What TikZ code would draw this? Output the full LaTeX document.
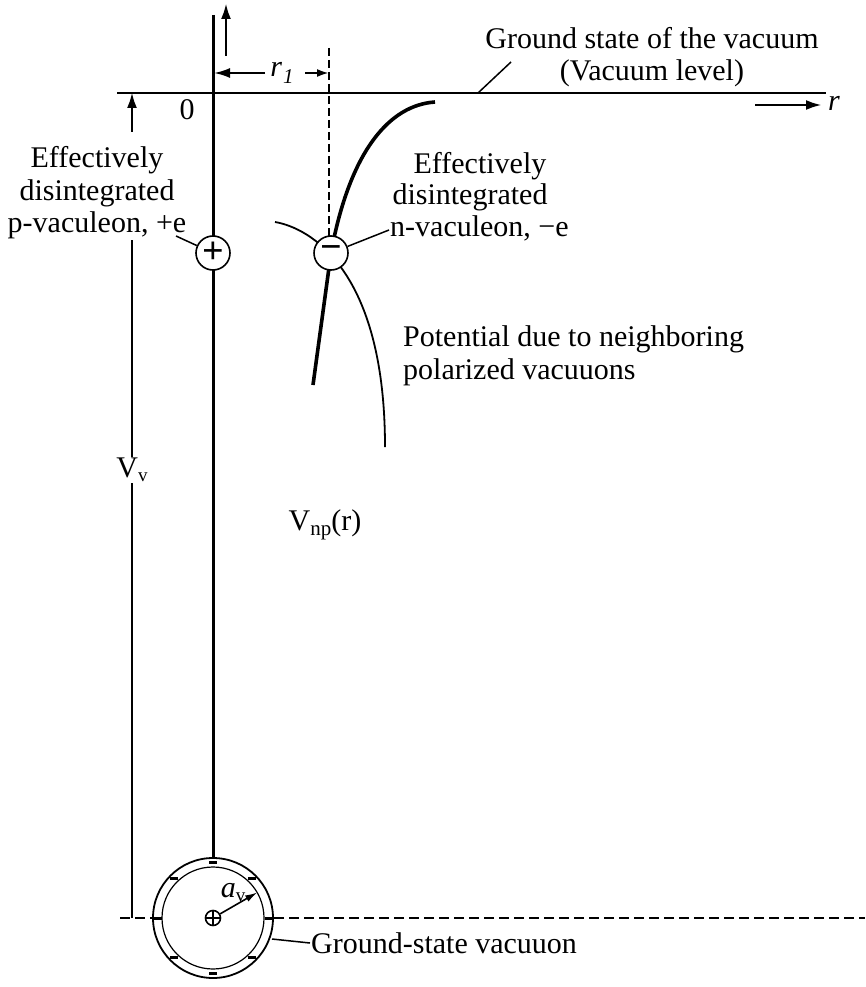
\documentclass[tikz,border=0pt]{standalone}
\usepackage{fontspec}
\setmainfont{Liberation Serif}
\usetikzlibrary{arrows.meta,calc}
\begin{document}
\begin{tikzpicture}[x=1pt,y=-1pt,
  txt/.style={font=\fontsize{30}{32.5}\selectfont,inner sep=1pt},
  thick1/.style={line width=3pt},
  arr/.style={-{Latex[length=16pt,width=10pt]},line width=2.8pt},
  chg/.style={circle,draw,line width=1.6pt,minimum size=34pt,inner sep=0pt,fill=white}]
\useasboundingbox (0,0) rectangle (865,987);
% axes
\coordinate (atop) at (213,15);
\coordinate (abot) at (213,858);
\draw[thick1] (atop) -- (abot);
\coordinate (h0) at (117,93); \coordinate (h1) at (826,93);
\draw[line width=1.8pt] (h0) -- (h1);
\coordinate (u0) at (226,56); \coordinate (u1) at (226,3);
\draw[arr] (u0) -- (u1);
\coordinate (ra) at (755,105); \coordinate (rb) at (822,105);
\draw[arr] (ra) -- (rb);
\node[txt,font=\fontsize{30}{32}\selectfont\itshape] (r) at (834,103) {r};
\node[txt] (zero) at (187,110) {0};
% r1
\coordinate (d0) at (329,48); \coordinate (d1) at (329,236);
\draw[line width=1.3pt,dash pattern=on 8pt off 4pt] (d0) -- (d1);
\coordinate (r1a) at (265,73); \coordinate (r1b) at (214,73);
\draw[arr,line width=2.2pt] (r1a) -- (r1b);
\coordinate (r1c) at (305,73); \coordinate (r1d) at (329,73);
\draw[-{Latex[length=12pt,width=8pt]},line width=2.2pt] (r1c) -- (r1d);
\node[txt,font=\fontsize{30}{32}\selectfont\itshape] (r1) at (282,73) {r\kern1pt\raisebox{-7pt}{\fontsize{21}{21}\selectfont 1}};
% Vv arrow
\coordinate (v0) at (132,918); \coordinate (v1) at (132,240); \coordinate (v2) at (132,132); \coordinate (v3) at (132,92);
\draw[line width=2.6pt] (v0) -- (v1);
\draw[arr] (v2) -- (v3);
\node[txt,fill=white] (vv) at (132,470) {V\raisebox{-4pt}{\fontsize{19}{19}\selectfont v}};
% curves
\coordinate (tc0) at (313,385); \coordinate (tc1) at (331,253); \coordinate (tc2) at (435,102);
\draw[line width=3.6pt] (tc0) -- (tc1) .. controls (350,150) and (390,105) .. (tc2);
\coordinate (th0) at (275,222); \coordinate (th1) at (385,447);
\draw[line width=1.8pt] (th0) .. controls (310,228) and (385,270) .. (th1);
% charges
\node[chg] (p) at (213,253) {\fontsize{38}{38}\selectfont\bfseries +};
\node[chg] (n) at (331,253) {\fontsize{38}{38}\selectfont\bfseries −};
% labels
\node[txt,align=center] (pl) at (97,193) {Effectively\\disintegrated\\p-vaculeon, +e};
\coordinate (plend) at (176,236);
\draw[line width=1.5pt] (plend) -- (p);
\node[txt] (nl1) at (480,166) {Effectively};
\node[txt] (nl2) at (470,197) {disintegrated};
\node[txt,anchor=west] (nl3) at (389,228) {n-vaculeon, −e};
\draw[line width=1.5pt] ($(nl3.west)+(0,2)$) -- (n);
\node[txt,anchor=west,align=left] (pot) at (402,356) {Potential due to neighboring\\polarized vacuuons};
\node[txt] (vnp) at (325,525) {V\raisebox{-5pt}{\fontsize{21}{21}\selectfont np}(r)};
\node[txt,align=center] (gs) at (652,57) {Ground state of the vacuum\\(Vacuum level)};
\coordinate (gsl) at (478,93);
\draw[line width=1.5pt] (gsl) -- (511,62);
% ground-state vacuon
\coordinate (c) at (213,918);
\draw[line width=1.8pt] (c) circle[radius=60];
\draw[line width=1.2pt] (c) circle[radius=51];
\foreach \a in {0,45,90,135,180,225,270,315}
  \draw[line width=3pt] ($(c)+(\a:55.5)+(-4,0)$) -- ++(8,0);
\node[circle,draw,line width=1.6pt,minimum size=15pt,inner sep=0pt] (pc) at (c) {};
\draw[line width=1.6pt] (pc.north) -- (pc.south) (pc.west) -- (pc.east);
\coordinate (ae) at ($(c)+(-30:51)$);
\draw[-{Latex[length=12pt,width=7pt]},line width=1.6pt] (pc) -- (ae);
\node[txt,font=\fontsize{30}{32}\selectfont\itshape] (av) at (233,893) {a\raisebox{-4pt}{\fontsize{19}{19}\selectfont\upshape v}};
\draw[line width=1.8pt,dash pattern=on 10pt off 5pt] (120,918) -- (152,918) (274,918) -- (865,918);
\node[txt,anchor=west] (gv) at (310,943) {Ground-state vacuuon};
\draw[line width=1.5pt] (272,939) -- (gv.west);
\end{tikzpicture}
\end{document}
